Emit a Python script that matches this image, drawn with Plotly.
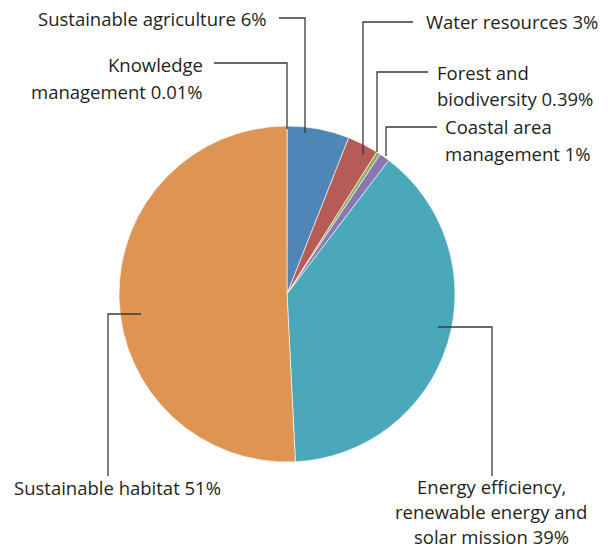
import plotly.graph_objects as go

W, H = 608, 549

# Data
categories = ["Knowledge management", "Sustainable agriculture", "Water resources",
              "Forest and biodiversity", "Coastal area management",
              "Energy efficiency, renewable energy and solar mission",
              "Sustainable habitat"]
values = [0.01, 6, 3, 0.39, 1, 39, 51]
colors = ["#4f86b8", "#4f86b8", "#b75b56", "#8fb15c", "#8877b0", "#4aa8ba", "#de9452"]

label_lines = [
    ["Knowledge", "management 0.01%"],
    ["Sustainable agriculture 6%"],
    ["Water resources 3%"],
    ["Forest and", "biodiversity 0.39%"],
    ["Coastal area", "management 1%"],
    ["Energy efficiency,", "renewable energy and", "solar mission 39%"],
    ["Sustainable habitat 51%"],
]

# Layout (pixel positions)
label_pos = [  # (x, y of first line, anchor, gap)
    (205, 65, "right", 26),
    (269, 18, "right", 26),
    (424, 22, "left", 26),
    (435, 72, "left", 27),
    (443, 127, "left", 26),
    (491, 486, "center", 25),
    (12, 487, "left", 26),
]
leaders = [
    [(214, 63), (287, 63), (287, 129)],
    [(279, 18), (305, 18), (305, 133)],
    [(413, 22), (363, 22), (363, 155)],
    [(428, 72), (377, 72), (377, 152)],
    [(437, 127), (386, 127), (386, 156)],
    [(438, 327), (492, 327), (492, 476)],
    [(141, 314), (108, 314), (108, 476)],
]

cx, cy, r = 287, 294, 168

def px(x):
    return x / W

def py(y):
    return 1 - y / H

fig = go.Figure()
fig.add_trace(go.Pie(
    labels=categories, values=values, sort=False, direction="clockwise",
    rotation=0, marker=dict(colors=colors, line=dict(color="white", width=0.6)),
    textinfo="none", hoverinfo="label+percent", showlegend=False,
    domain=dict(x=[px(cx - r), px(cx + r)], y=[py(cy + r), py(cy - r)]),
))

shapes = []
for pts in leaders:
    path = "M " + " L ".join(f"{px(x)},{py(y)}" for x, y in pts)
    shapes.append(dict(type="path", path=path, xref="paper", yref="paper",
                       line=dict(color="#3a3a3a", width=1.3)))

annotations = []
for lines, (x, y, anc, gap) in zip(label_lines, label_pos):
    for i, t in enumerate(lines):
        annotations.append(dict(
            text=t, x=px(x), y=py(y + i * gap), xref="paper", yref="paper",
            xanchor=anc, yanchor="middle", showarrow=False,
            font=dict(family="Open Sans", size=18.5, color="#231f20")))

fig.update_layout(
    width=W, height=H, margin=dict(l=0, r=0, t=0, b=0),
    paper_bgcolor="white", plot_bgcolor="white",
    shapes=shapes, annotations=annotations,
)

fig.write_html("out.html")
